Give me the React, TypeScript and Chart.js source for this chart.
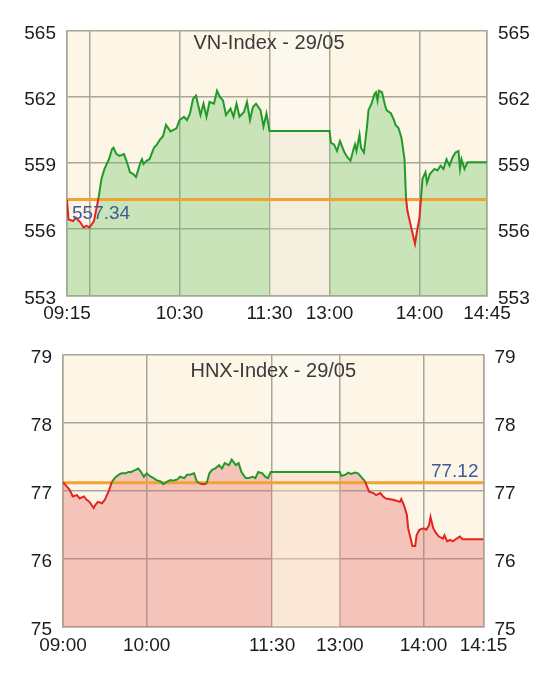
import React, { useEffect, useRef } from 'react';
import { Chart, registerables } from 'chart.js';

Chart.register(...registerables);

// ---------------- VN-Index data ----------------
const vnTitle = 'VN-Index - 29/05';
const vnReference = 557.34;
const vnYTicks = [553, 556, 559, 562, 565];
const vnTickTimes = ['09:15', '09:30', '10:30', '11:30', '13:00', '14:00', '14:45'];
const vnTickLabels = ['09:15', '', '10:30', '11:30', '13:00', '14:00', '14:45'];
const vnTimes = [
  '09:15', '09:16', '09:19', '09:21', '09:24', '09:26', '09:28', '09:30', '09:33', '09:36',
  '09:38', '09:40', '09:43', '09:45', '09:46', '09:48', '09:50', '09:53', '09:55', '09:57',
  '09:59', '10:01', '10:04', '10:05', '10:06', '10:08', '10:10', '10:13', '10:15', '10:17',
  '10:19', '10:21', '10:24', '10:26', '10:28', '10:30', '10:33', '10:35', '10:37', '10:39',
  '10:41', '10:44', '10:46', '10:48', '10:50', '10:53', '10:55', '10:57', '10:59', '11:01',
  '11:04', '11:06', '11:08', '11:10', '11:13', '11:15', '11:17', '11:19', '11:21', '11:24',
  '11:26', '11:28', '11:30',
  '13:00', '13:01', '13:03', '13:05', '13:07', '13:10', '13:12', '13:14', '13:16', '13:17',
  '13:18', '13:20', '13:21', '13:23', '13:25', '13:26', '13:28', '13:30', '13:31', '13:32',
  '13:33', '13:35', '13:37', '13:38', '13:41', '13:43', '13:44', '13:46', '13:48', '13:50',
  '13:51', '13:52', '13:54', '13:56', '13:57', '13:58', '14:00', '14:01', '14:02', '14:04',
  '14:05', '14:07', '14:10', '14:12', '14:14', '14:16', '14:18', '14:20', '14:22', '14:24',
  '14:26', '14:27', '14:28', '14:30', '14:32', '14:45',
];
const vnValues = [
  557.34, 556.44, 556.37, 556.52, 556.30, 556.08, 556.15, 556.08, 556.37, 557.40,
  558.29, 558.73, 559.17, 559.62, 559.69, 559.40, 559.32, 559.40, 559.03, 558.58,
  558.51, 558.36, 559.03, 559.17, 558.95, 559.10, 559.17, 559.69, 559.84, 560.06,
  560.21, 560.72, 560.43, 560.50, 560.57, 560.94, 561.09, 560.94, 561.24, 561.90,
  562.05, 561.17, 561.68, 561.09, 561.76, 561.68, 562.27, 561.98, 561.83, 561.17,
  561.46, 561.09, 561.68, 561.09, 561.31, 561.76, 560.94, 561.53, 561.68, 561.39,
  560.65, 561.24, 560.45,
  560.45, 559.91, 559.84, 559.54, 559.99, 559.47, 559.25, 559.10, 559.62, 559.84,
  559.54, 560.28, 559.69, 559.47, 560.65, 561.39, 561.68, 562.12, 562.20, 561.83,
  562.27, 562.20, 561.61, 561.39, 561.24, 560.94, 560.72, 560.58, 560.13, 559.17,
  557.40, 556.81, 556.22, 555.63, 555.34, 555.78, 556.52, 557.40, 558.29, 558.58,
  558.10, 558.51, 558.73, 558.66, 558.88, 558.73, 559.17, 558.88, 559.25, 559.47,
  559.54, 558.73, 559.17, 558.73, 559.03, 559.03,
];

// ---------------- HNX-Index data ----------------
const hnxTitle = 'HNX-Index - 29/05';
const hnxReference = 77.12;
const hnxYTicks = [75, 76, 77, 78, 79];
const hnxTickTimes = ['09:00', '10:00', '11:30', '13:00', '14:00', '14:43'];
const hnxTickLabels = ['09:00', '10:00', '11:30', '13:00', '14:00', '14:15'];
const hnxTimes = [
  '09:00', '09:03', '09:05', '09:07', '09:10', '09:12', '09:15', '09:17', '09:19', '09:22',
  '09:23', '09:25', '09:28', '09:30', '09:33', '09:35', '09:37', '09:40', '09:42', '09:45',
  '09:47', '09:49', '09:52', '09:54', '09:56', '09:58', '10:00', '10:03', '10:05', '10:07',
  '10:10', '10:12', '10:15', '10:17', '10:19', '10:22', '10:24', '10:27', '10:29', '10:31',
  '10:34', '10:36', '10:38', '10:41', '10:43', '10:45', '10:47', '10:49', '10:52', '10:54',
  '10:56', '10:59', '11:01', '11:04', '11:06', '11:08', '11:11', '11:13', '11:16', '11:18',
  '11:20', '11:23', '11:25', '11:27', '11:29', '11:30',
  '13:00', '13:01', '13:04', '13:06', '13:08', '13:11', '13:13', '13:16', '13:18', '13:20',
  '13:21', '13:24', '13:26', '13:29', '13:31', '13:33', '13:36', '13:38', '13:40', '13:43',
  '13:44', '13:46', '13:48', '13:49', '13:51', '13:52', '13:54', '13:55', '13:57', '14:00',
  '14:02', '14:04', '14:05', '14:07', '14:09', '14:11', '14:14', '14:15', '14:17', '14:19',
  '14:21', '14:23', '14:26', '14:28', '14:43',
];
const hnxValues = [
  77.13, 77.06, 77.01, 76.92, 76.94, 76.89, 76.92, 76.87, 76.84, 76.75,
  76.79, 76.84, 76.82, 76.87, 77.01, 77.13, 77.19, 77.24, 77.26, 77.26,
  77.28, 77.28, 77.31, 77.33, 77.28, 77.21, 77.26, 77.21, 77.19, 77.16,
  77.14, 77.10, 77.14, 77.16, 77.15, 77.17, 77.21, 77.19, 77.24, 77.24,
  77.26, 77.14, 77.11, 77.10, 77.11, 77.26, 77.31, 77.33, 77.38, 77.33,
  77.41, 77.38, 77.46, 77.38, 77.41, 77.28, 77.19, 77.19, 77.21, 77.19,
  77.28, 77.26, 77.21, 77.19, 77.28, 77.28,
  77.28, 77.22, 77.24, 77.27, 77.25, 77.27, 77.26, 77.19, 77.14, 77.04,
  76.99, 76.97, 76.94, 76.97, 76.92, 76.89, 76.88, 76.87, 76.86, 76.84,
  76.88, 76.79, 76.65, 76.45, 76.28, 76.19, 76.19, 76.35, 76.43, 76.45,
  76.43, 76.50, 76.62, 76.45, 76.38, 76.33, 76.30, 76.35, 76.26, 76.28,
  76.26, 76.29, 76.33, 76.29, 76.29,
];

// ---------------- styling ----------------
const FONT = '"Liberation Sans", Arial, Helvetica, sans-serif';
const GREEN = '#23992a';
const RED = '#e5231f';
const ORANGE = '#f2a230';
const GRID = '#a9a698';
const BG = '#fdf6e6';
const BREAK_BG = '#fcf8ee';
const LABEL_BLUE = '#3d5b98';

type PanelCfg = {
  title: string;
  reference: number;
  yTicks: number[];
  tickTimes: string[];
  tickLabels: string[];
  times: string[];
  values: number[];
  breakUnits: number;
  height: number;
  padTop: number;
  leftWidth: number;
  rightWidth: number;
  xHeight: number;
  titleDx: number;
  titleDy: number;
  refLabelSide: 'left' | 'right';
};

function minutesOf(t: string) {
  const [h, m] = t.split(':').map(Number);
  return h * 60 + m;
}

function makeMapper(breakUnits: number) {
  return (t: string) => {
    const mm = minutesOf(t);
    if (mm <= 690) return mm - 540;
    return 150 + breakUnits + (mm - 780);
  };
}

function buildChart(canvas: HTMLCanvasElement, cfg: PanelCfg) {
  const toX = makeMapper(cfg.breakUnits);
  const pts = cfg.times.map((t, i) => ({ x: toX(t), y: cfg.values[i] }));
  const tickXs = cfg.tickTimes.map(toX);
  const xMin = tickXs[0];
  const xMax = tickXs[tickXs.length - 1];
  const bStart = toX('11:30');
  const bEnd = toX('13:00');
  const ref = cfg.reference;
  const lastVal = cfg.values[cfg.values.length - 1];
  const up = lastVal >= ref;
  const fillColor = up ? 'rgba(102,195,99,0.35)' : 'rgba(227,103,104,0.35)';
  const breakFill = up ? 'rgba(232,226,200,0.45)' : 'rgba(250,210,185,0.45)';
  const yMin = cfg.yTicks[0];
  const yMax = cfg.yTicks[cfg.yTicks.length - 1];

  const morningPts = pts.filter((p) => p.x <= bStart);
  const breakPts = pts.filter((p) => p.x >= bStart && p.x <= bEnd);
  const afternoonPts = pts.filter((p) => p.x >= bEnd);

  const fillSet = (data: { x: number; y: number }[], color: string) => ({
    data,
    borderWidth: 0,
    borderColor: 'rgba(0,0,0,0)',
    pointRadius: 0,
    tension: 0,
    fill: 'start',
    backgroundColor: color,
    order: 3,
  });

  const yAxisBase = (width: number, position: 'left' | 'right', showGrid: boolean) => ({
    type: 'linear' as const,
    position,
    min: yMin,
    max: yMax,
    afterBuildTicks: (s: any) => {
      s.ticks = cfg.yTicks.map((v) => ({ value: v }));
    },
    afterFit: (s: any) => {
      s.width = width;
    },
    ticks: {
      color: '#1c1c1c',
      font: { size: 19, family: FONT },
      padding: 11,
      labelOffset: 3,
      callback: (v: any) => String(v),
    },
    grid: { display: showGrid, color: GRID, lineWidth: 1.5, drawTicks: false },
    border: { display: true, color: GRID, width: 1.5 },
  });

  const panelPlugin = {
    id: 'panelDecor',
    beforeDraw(chart: any) {
      const { ctx, chartArea: a, scales } = chart;
      ctx.save();
      ctx.fillStyle = BG;
      ctx.fillRect(a.left, a.top, a.right - a.left, a.bottom - a.top);
      const x0 = scales.x.getPixelForValue(bStart);
      const x1 = scales.x.getPixelForValue(bEnd);
      ctx.fillStyle = BREAK_BG;
      ctx.fillRect(x0, a.top, x1 - x0, a.bottom - a.top);
      ctx.restore();
    },
    afterDatasetsDraw(chart: any) {
      const { ctx, chartArea: a, scales } = chart;
      ctx.save();
      ctx.font = `20px ${FONT}`;
      ctx.fillStyle = '#3a3a3a';
      ctx.textAlign = 'center';
      ctx.textBaseline = 'middle';
      ctx.fillText(cfg.title, (a.left + a.right) / 2 + cfg.titleDx, a.top + cfg.titleDy);
      const yRef = scales.y.getPixelForValue(ref);
      ctx.font = `19px ${FONT}`;
      ctx.fillStyle = LABEL_BLUE;
      if (cfg.refLabelSide === 'left') {
        ctx.textAlign = 'left';
        ctx.fillText(ref.toFixed(2), a.left + 5, yRef + 14);
      } else {
        ctx.textAlign = 'right';
        ctx.fillText(ref.toFixed(2), a.right - 5, yRef - 11);
      }
      ctx.restore();
    },
  };

  return new Chart(canvas, {
    type: 'line',
    data: {
      datasets: [
        {
          data: pts,
          borderColor: GREEN,
          borderWidth: 2,
          pointRadius: 0,
          tension: 0,
          fill: false,
          order: 1,
          segment: {
            borderColor: (c: any) => ((c.p0.parsed.y + c.p1.parsed.y) / 2 < ref ? RED : GREEN),
          },
        } as any,
        {
          data: [
            { x: xMin, y: ref },
            { x: xMax, y: ref },
          ],
          borderColor: ORANGE,
          borderWidth: 3,
          pointRadius: 0,
          fill: false,
          order: 2,
        },
        fillSet(morningPts, fillColor) as any,
        fillSet(breakPts, breakFill) as any,
        fillSet(afternoonPts, fillColor) as any,
      ],
    },
    options: {
      animation: false,
      responsive: true,
      maintainAspectRatio: false,
      events: [],
      layout: { padding: { top: cfg.padTop, left: 0, right: 0, bottom: 0 } },
      plugins: {
        legend: { display: false },
        tooltip: { enabled: false },
        filler: { drawTime: 'beforeDatasetsDraw' },
      } as any,
      scales: {
        x: {
          type: 'linear',
          min: xMin,
          max: xMax,
          afterBuildTicks: (s: any) => {
            s.ticks = tickXs.map((v) => ({ value: v }));
          },
          afterFit: (s: any) => {
            s.height = cfg.xHeight;
          },
          ticks: {
            autoSkip: false,
            maxRotation: 0,
            padding: 7,
            color: '#1c1c1c',
            font: { size: 19, family: FONT },
            callback: (_v: any, i: number) => cfg.tickLabels[i],
          },
          grid: { color: GRID, lineWidth: 1.5, drawTicks: false },
          border: { display: true, color: GRID, width: 1.5 },
        },
        y: yAxisBase(cfg.leftWidth, 'left', true),
        y2: yAxisBase(cfg.rightWidth, 'right', false),
      } as any,
    },
    plugins: [panelPlugin],
  });
}

function Panel({ cfg }: { cfg: PanelCfg }) {
  const ref = useRef<HTMLCanvasElement | null>(null);
  useEffect(() => {
    if (!ref.current) return;
    const chart = buildChart(ref.current, cfg);
    return () => chart.destroy();
  }, [cfg]);
  return (
    <div style={{ position: 'relative', width: '100%', height: cfg.height }}>
      <canvas ref={ref} style={{ display: 'block' }} />
    </div>
  );
}

const vnCfg: PanelCfg = {
  title: vnTitle,
  reference: vnReference,
  yTicks: vnYTicks,
  tickTimes: vnTickTimes,
  tickLabels: vnTickLabels,
  times: vnTimes,
  values: vnValues,
  breakUnits: 40,
  height: 322,
  padTop: 17,
  leftWidth: 59,
  rightWidth: 57,
  xHeight: 34.5,
  titleDx: -8,
  titleDy: 13.5,
  refLabelSide: 'left',
};

const hnxCfg: PanelCfg = {
  title: hnxTitle,
  reference: hnxReference,
  yTicks: hnxYTicks,
  tickTimes: hnxTickTimes,
  tickLabels: hnxTickLabels,
  times: hnxTimes,
  values: hnxValues,
  breakUnits: 48.6,
  height: 338,
  padTop: 25,
  leftWidth: 55,
  rightWidth: 60.5,
  xHeight: 41,
  titleDx: 0,
  titleDy: 16,
  refLabelSide: 'right',
};

export default function App() {
  return (
    <div style={{ width: '100%', fontFamily: FONT }}>
      <Panel cfg={vnCfg} />
      <Panel cfg={hnxCfg} />
    </div>
  );
}
